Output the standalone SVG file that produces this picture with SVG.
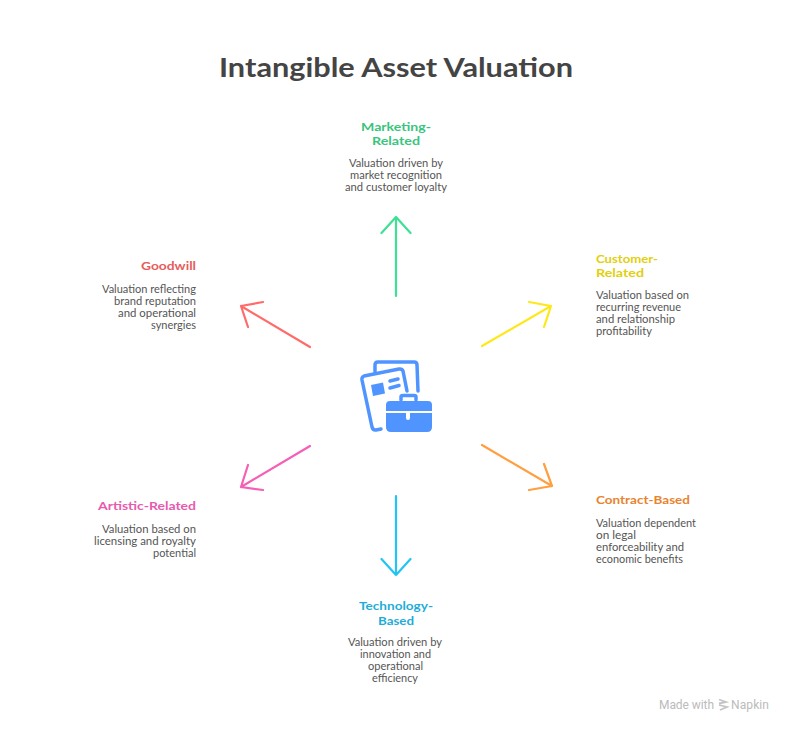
<svg xmlns="http://www.w3.org/2000/svg" width="792" height="732" viewBox="0 0 792 732">
<defs><style>
text{font-family:"Lato","Open Sans","Liberation Sans",sans-serif}
.t{font-size:26px;font-weight:700;fill:#444}
.h{font-size:12px;font-weight:700}
.d{font-size:11px;fill:#555}
.f{font-family:"Roboto","Liberation Sans",sans-serif;font-size:12px;fill:#bbb}
.a{fill:none;stroke-width:2.2;stroke-linecap:round;stroke-linejoin:round}
.i{fill:none;stroke:#5095FF;stroke-width:3.5;stroke-linejoin:round;stroke-linecap:round}
</style></defs>
<rect width="792" height="732" fill="#fff"/>
<text id="title" class="t" x="219" y="77" textLength="354" lengthAdjust="spacingAndGlyphs">Intangible Asset Valuation</text>
<g id="connectors">
<path class="a" stroke="#3DE094" d="M396 296V217M381.500 233L396 217L410.500 233"/>
<path class="a" stroke="#FFE81A" d="M482 346L551 306M529 302L551 306L544 327"/>
<path class="a" stroke="#FF9F40" d="M482 445L552 486M544 464L552 486L529 490"/>
<path class="a" stroke="#22C4F5" d="M396 496V575M381.500 559L396 575L410.500 559"/>
<path class="a" stroke="#F55FB5" d="M310 446L241 487M248 465L241 487L263 490"/>
<path class="a" stroke="#FF6B6B" d="M310 347L241 306M263 302L241 306L248 327"/>
</g>
<g id="center-icon">
<path class="i" d="M375 372V365Q375 362 378 362L414 362Q417 362 417 365L418 391"/>
<path class="i" d="M381 429L376 430Q373 430.500 372 427L362 380Q361.500 377 364 376L399 369Q402 368.500 403 371L407 391"/>
<path d="M371 385L383 382.500L385 393.500L373 396Z" fill="#5095FF"/>
<path class="i" d="M390 381L398 379M390 388L399 385.500"/>
<path class="i" stroke-width="3" d="M401 400V397Q401 395.500 403 395.500H414Q416 395.500 416 397V400"/>
<path d="M386 411V405Q386 401 390 401H428Q432 401 432 405V411ZM386 413H406V418Q406 420 408 420T410 418V413H432V427Q432 432 427 432H391Q386 432 386 427Z" fill="#5095FF"/>
</g>
<g id="marketing-related">
<text class="h" fill="#3AC47D" x="361" y="130.500" textLength="70" lengthAdjust="spacingAndGlyphs">Marketing-</text>
<text class="h" fill="#3AC47D" x="372" y="145" textLength="48" lengthAdjust="spacingAndGlyphs">Related</text>
<text class="d" x="349" y="167" textLength="94" lengthAdjust="spacingAndGlyphs">Valuation driven by</text>
<text class="d" x="350" y="179" textLength="92" lengthAdjust="spacingAndGlyphs">market recognition</text>
<text class="d" x="345" y="191" textLength="102" lengthAdjust="spacingAndGlyphs">and customer loyalty</text>
</g>
<g id="customer-related">
<text class="h" fill="#E2CF0E" x="596" y="262.500" textLength="62" lengthAdjust="spacingAndGlyphs">Customer-</text>
<text class="h" fill="#E2CF0E" x="596" y="277" textLength="48" lengthAdjust="spacingAndGlyphs">Related</text>
<text class="d" x="596" y="299" textLength="93" lengthAdjust="spacingAndGlyphs">Valuation based on</text>
<text class="d" x="596" y="311" textLength="85" lengthAdjust="spacingAndGlyphs">recurring revenue</text>
<text class="d" x="596" y="323" textLength="79" lengthAdjust="spacingAndGlyphs">and relationship</text>
<text class="d" x="596" y="335" textLength="56" lengthAdjust="spacingAndGlyphs">profitability</text>
</g>
<g id="contract-based">
<text class="h" fill="#E8832F" x="596" y="503.500" textLength="94" lengthAdjust="spacingAndGlyphs">Contract-Based</text>
<text class="d" x="596" y="527" textLength="100" lengthAdjust="spacingAndGlyphs">Valuation dependent</text>
<text class="d" x="596" y="539" textLength="40" lengthAdjust="spacingAndGlyphs">on legal</text>
<text class="d" x="596" y="551" textLength="88" lengthAdjust="spacingAndGlyphs">enforceability and</text>
<text class="d" x="596" y="563" textLength="87" lengthAdjust="spacingAndGlyphs">economic benefits</text>
</g>
<g id="technology-based">
<text class="h" fill="#1FADD8" x="359" y="610" textLength="74" lengthAdjust="spacingAndGlyphs">Technology-</text>
<text class="h" fill="#1FADD8" x="378" y="624.500" textLength="36" lengthAdjust="spacingAndGlyphs">Based</text>
<text class="d" x="348" y="646" textLength="94" lengthAdjust="spacingAndGlyphs">Valuation driven by</text>
<text class="d" x="360" y="658" textLength="71" lengthAdjust="spacingAndGlyphs">innovation and</text>
<text class="d" x="368" y="670" textLength="55" lengthAdjust="spacingAndGlyphs">operational</text>
<text class="d" x="372" y="682" textLength="46" lengthAdjust="spacingAndGlyphs">efficiency</text>
</g>
<g id="artistic-related">
<text class="h" fill="#E85AAE" x="98" y="509.500" textLength="98" lengthAdjust="spacingAndGlyphs">Artistic-Related</text>
<text class="d" x="102" y="533" textLength="94" lengthAdjust="spacingAndGlyphs">Valuation based on</text>
<text class="d" x="94" y="545" textLength="102" lengthAdjust="spacingAndGlyphs">licensing and royalty</text>
<text class="d" x="153" y="557" textLength="43" lengthAdjust="spacingAndGlyphs">potential</text>
</g>
<g id="goodwill">
<text class="h" fill="#E85B5B" x="141" y="269.500" textLength="55" lengthAdjust="spacingAndGlyphs">Goodwill</text>
<text class="d" x="102" y="293" textLength="94" lengthAdjust="spacingAndGlyphs">Valuation reflecting</text>
<text class="d" x="114" y="305" textLength="82" lengthAdjust="spacingAndGlyphs">brand reputation</text>
<text class="d" x="118" y="317" textLength="78" lengthAdjust="spacingAndGlyphs">and operational</text>
<text class="d" x="151" y="329" textLength="45" lengthAdjust="spacingAndGlyphs">synergies</text>
</g>
<g id="footer">
<text class="f" x="659" y="709" textLength="55" lengthAdjust="spacing">Made with</text>
<path d="M719 699.500L726 702L719 703.500M719 705L727 707L720 710" fill="none" stroke="#c4c4c4" stroke-width="1.800"/>
<text class="f" x="731" y="709" textLength="38" lengthAdjust="spacing">Napkin</text>
</g>
</svg>
